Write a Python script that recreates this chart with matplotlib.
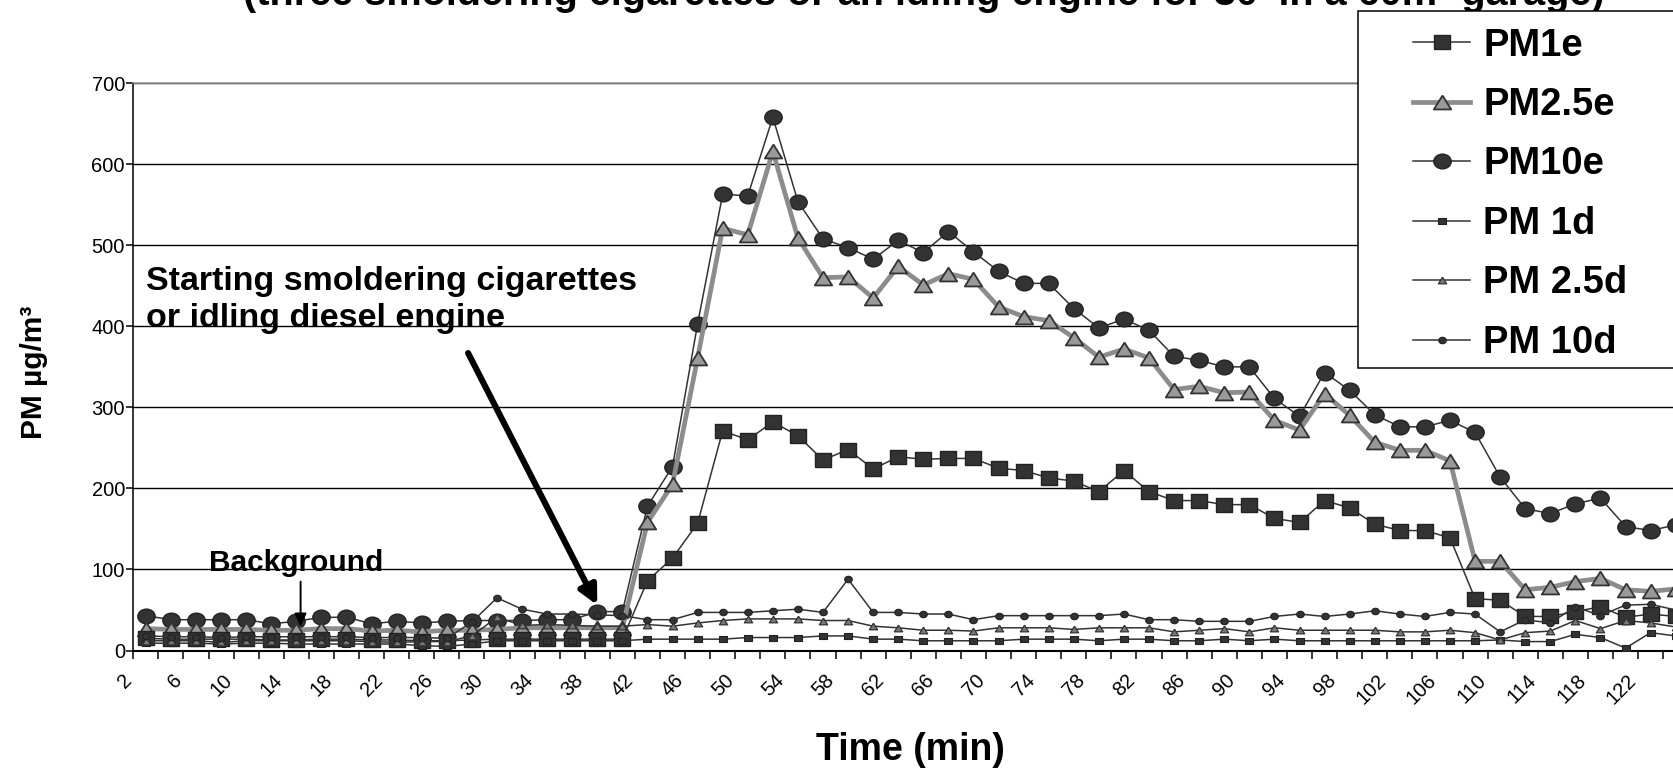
import numpy as np
import matplotlib
matplotlib.use("Agg")
import matplotlib.pyplot as plt
from matplotlib.path import Path
from matplotlib.patches import Rectangle
from matplotlib.transforms import Affine2D, ScaledTranslation

plt.rcParams['font.family'] = ['Liberation Sans', 'DejaVu Sans']

# ----- data, one value every 2 minutes -----
minutes = list(range(2, 126, 2))

pm1e = [15, 14, 14, 14, 14, 13, 13, 14, 14, 13, 13, 12, 12, 13, 14, 14, 14, 14, 14, 14,
        86, 114, 157, 271, 260, 282, 265, 235, 248, 224, 239, 236, 237, 237, 225, 222,
        213, 209, 196, 222, 196, 185, 185, 180, 180, 163, 158, 185, 176, 156, 148, 148,
        139, 64, 62, 42, 42, 48, 54, 41, 45, 42]
pm25e = [27, 26, 26, 26, 26, 25, 25, 27, 27, 24, 25, 23, 25, 25, 26, 28, 28, 28, 28, 28,
         158, 205, 361, 521, 513, 616, 509, 460, 461, 435, 474, 451, 465, 458, 424, 412,
         407, 386, 362, 372, 361, 322, 326, 318, 319, 284, 272, 317, 290, 257, 247, 247,
         234, 110, 110, 75, 78, 85, 89, 75, 73, 76]
pm10e = [43, 38, 38, 38, 38, 33, 36, 41, 41, 33, 36, 34, 36, 37, 37, 37, 38, 38, 48, 48,
         178, 227, 403, 563, 561, 658, 554, 508, 497, 483, 506, 491, 517, 492, 468, 453,
         453, 422, 398, 409, 395, 363, 358, 350, 350, 311, 289, 343, 321, 291, 276, 276,
         284, 269, 214, 175, 169, 181, 188, 153, 148, 155]
pm1d = [9, 9, 9, 8, 9, 9, 8, 8, 8, 8, 8, 6, 5, 8, 12, 12, 12, 12, 12, 12,
        14, 14, 14, 14, 16, 16, 16, 18, 18, 14, 14, 12, 12, 12, 12, 14, 14, 14, 12, 14,
        14, 12, 12, 14, 12, 14, 12, 12, 12, 12, 12, 12, 12, 12, 13, 11, 11, 20, 16, 3,
        22, 18]
pm25d = [12, 12, 12, 10, 12, 12, 12, 12, 12, 11, 10, 11, 11, 18, 41, 31, 32, 31, 30, 30,
         32, 30, 34, 37, 39, 39, 39, 37, 37, 30, 28, 25, 25, 24, 28, 28, 28, 26, 28, 28,
         28, 23, 25, 27, 23, 28, 25, 25, 25, 25, 23, 23, 25, 22, 13, 22, 24, 37, 27, 37,
         34, 29]
pm10d = [18, 17, 17, 16, 17, 17, 17, 17, 17, 16, 16, 16, 15, 35, 65, 51, 45, 45, 44, 43,
         38, 38, 47, 47, 47, 49, 51, 47, 88, 47, 47, 45, 45, 38, 43, 43, 43, 43, 43, 45,
         38, 38, 36, 36, 36, 42, 45, 42, 45, 49, 45, 42, 47, 45, 23, 38, 34, 54, 43, 56,
         57, 50]

DARK = '#333333'
EDGE = '#222222'

# markers come out a bit wider than tall in the source picture
def wide(verts, sx):
    return Path(verts).transformed(Affine2D().scale(sx, 1.0))

SQ = wide([(-1, -1), (1, -1), (1, 1), (-1, 1), (-1, -1)], 1.2)
TRI = wide([(0, 1), (-1, -1), (1, -1), (0, 1)], 1.25)
CIRC = Path.unit_circle().transformed(Affine2D().scale(1.18, 1.0))

fig = plt.figure(figsize=(16.73, 7.68), dpi=100)
# axes runs past the right edge, like the cropped original
ax = fig.add_axes([0.07968, 0.15299, 0.95942, 0.73867])

x = np.arange(1, len(minutes) + 1)

l10e, = ax.plot(x, pm10e, color=DARK, lw=1.1, marker=CIRC, ms=12.5,
                mfc=DARK, mec=EDGE, mew=1.0, label='PM10e', zorder=3)
l25e, = ax.plot(x, pm25e, color='#8c8c8c', lw=3.4, marker=TRI, ms=12.5,
                mfc='#999999', mec=DARK, mew=1.3, label='PM2.5e', zorder=4)
l1e, = ax.plot(x, pm1e, color=DARK, lw=1.1, marker=SQ, ms=11.5,
               mfc=DARK, mec=EDGE, mew=1.0, label='PM1e', zorder=5)
l1d, = ax.plot(x, pm1d, color=DARK, lw=1.1, marker=SQ, ms=5.5,
               mfc=DARK, mec=EDGE, mew=0.8, label='PM 1d', zorder=6)
l25d, = ax.plot(x, pm25d, color=DARK, lw=1.1, marker=TRI, ms=6,
                mfc='#777777', mec=DARK, mew=0.9, label='PM 2.5d', zorder=6)
l10d, = ax.plot(x, pm10d, color=DARK, lw=1.1, marker=CIRC, ms=5.5,
                mfc=DARK, mec=EDGE, mew=0.8, label='PM 10d', zorder=6)

ax.set_xlim(0.5, 64.5)
ax.set_ylim(0, 700)

# y axis
ax.set_yticks(range(0, 701, 100))
ax.tick_params(axis='y', length=5, width=1.1, pad=1, labelsize=14.5, direction='out')
ax.yaxis.grid(True, color='black', lw=1.0)
ax.set_axisbelow(True)

# x axis: tick marks between categories, labels on every other one
ax.set_xticks(np.arange(0.5, 65, 1), minor=True)
ax.set_xticks(x[::2])
ax.set_xticklabels([str(m) for m in minutes[::2]], rotation=45, ha='right',
                   va='center', rotation_mode='anchor', fontsize=14.5)
ax.tick_params(axis='x', which='major', length=0, pad=19.4)
ax.tick_params(axis='x', which='minor', length=5.5, width=1.1, direction='out')
shift = ScaledTranslation(-0.17, 0, fig.dpi_scale_trans)
for lbl in ax.get_xticklabels():
    lbl.set_transform(lbl.get_transform() + shift)

for s in ('left', 'bottom'):
    ax.spines[s].set_color('black')
ax.spines['left'].set_linewidth(1.1)
ax.spines['bottom'].set_linewidth(1.5)
ax.spines['top'].set_color('#999999')
ax.spines['top'].set_linewidth(1.1)
ax.spines['right'].set_visible(False)

# annotations
ax.text(1.0, 432, 'Starting smoldering cigarettes\nor idling diesel engine',
        ha='left', va='center', fontsize=24.5, fontweight='bold', linespacing=1.25)
ax.annotate('', xy=(19.0, 56), xytext=(13.85, 367),
            arrowprops=dict(arrowstyle='-|>,head_length=1.1,head_width=0.55',
                            lw=4.4, color='black', shrinkA=0, shrinkB=0))
ax.text(3.5, 108, 'Background', ha='left', va='center', fontsize=21.5, fontweight='bold')
ax.annotate('', xy=(7.17, 29), xytext=(7.17, 85),
            arrowprops=dict(arrowstyle='-|>,head_length=0.8,head_width=0.35',
                            lw=1.4, color='black', shrinkA=0, shrinkB=0))

# axis titles
fig.text(34 / 1673, 1 - 372 / 768, 'PM µg/m³', rotation=90, ha='center', va='center',
         fontsize=21.5, fontweight='bold')
fig.text(910 / 1673, 1 - 750 / 768, 'Time (min)', ha='center', va='center',
         fontsize=27, fontweight='bold')

# title, mostly cut off at the top as in the original
fig.text(924 / 1673, 1 - 5 / 768,
         "(three smoldering cigarettes or an idling engine for 30' in a 60m³ garage)",
         ha='center', va='baseline', fontsize=28.5, fontweight='bold')

# legend: frame drawn as a box that runs off the right edge
fig.patches.append(Rectangle((1358 / 1673, 1 - 368 / 768), 0.3, (368 - 11) / 768,
                             transform=fig.transFigure, fill=True, facecolor='white',
                             edgecolor='black', lw=1.1, zorder=5))
leg = fig.legend([l1e, l25e, l10e, l1d, l25d, l10d],
                 ['PM1e', 'PM2.5e', 'PM10e', 'PM 1d', 'PM 2.5d', 'PM 10d'],
                 loc='upper left', bbox_to_anchor=(1413 / 1673, 1 - 27.5 / 768),
                 frameon=False, borderpad=0, borderaxespad=0, numpoints=1,
                 handlelength=1.5, handletextpad=0.34, labelspacing=0.615,
                 prop={'weight': 'bold', 'size': 27.5})
leg.set_zorder(6)

fig.savefig('out.png', dpi=100)
